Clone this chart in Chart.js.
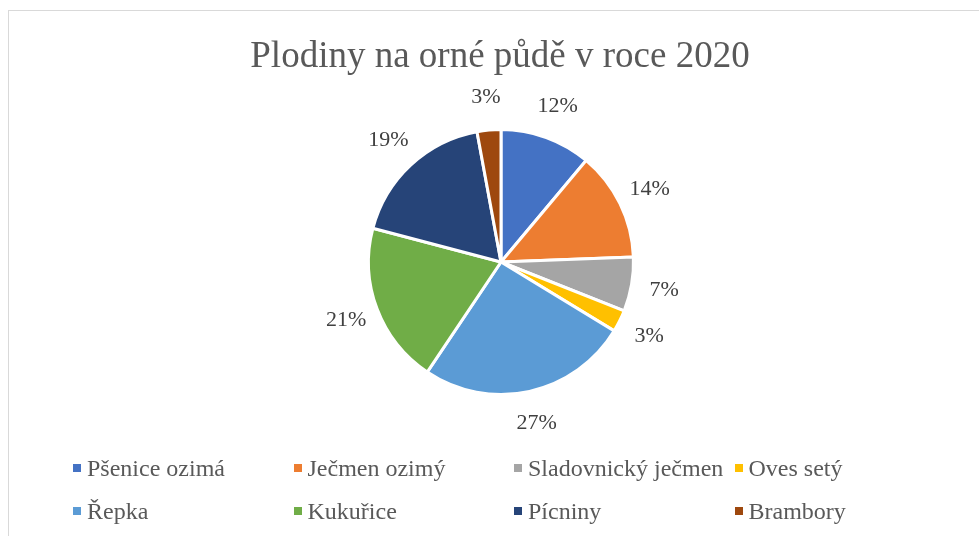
<!DOCTYPE html>
<html>
<head>
<meta charset="utf-8">
<script src="https://cdn.jsdelivr.net/npm/chart.js@4/dist/chart.umd.min.js"></script>
<style>
  html, body { margin: 0; padding: 0; background: #fff; }
  #wrap { position: relative; width: 979px; height: 536px; overflow: hidden; font-family: "Liberation Serif", "Times New Roman", serif; }
  #frame { position: absolute; left: 8px; top: 10px; width: 1000px; height: 600px; border: 1.5px solid #d9d9d9; box-sizing: border-box; }
  #title { position: absolute; left: 0; top: 36px; width: 1000px; text-align: center; font-size: 37px; line-height: 37px; color: #595959; }
  #c { position: absolute; left: 0; top: 0; }
  .lg { position: absolute; font-size: 24px; line-height: 24px; color: #595959; white-space: nowrap; }
  .lg span.box { position: absolute; width: 8px; height: 8px; left: -14px; top: 8px; }
</style>
</head>
<body>
<div id="wrap">
  <div id="frame"></div>
  <canvas id="c" width="979" height="536"></canvas>
  <div id="title">Plodiny na orné půdě v roce 2020</div>
  <div id="legend"></div>
</div>
<script>
const categories = ["Pšenice ozimá", "Ječmen ozimý", "Sladovnický ječmen", "Oves setý", "Řepka", "Kukuřice", "Pícniny", "Brambory"];
const shares = [11.1, 13.3, 6.6, 2.7, 25.7, 19.7, 18.0, 2.9];
const percentLabels = ["12%", "14%", "7%", "3%", "27%", "21%", "19%", "3%"];
const colors = ["#4472C4", "#ED7D31", "#A5A5A5", "#FFC000", "#5B9BD5", "#70AD47", "#264478", "#9E480E"];

const FONT = '"Liberation Serif", "Times New Roman", serif';

const outsideLabels = {
  id: 'outsideLabels',
  afterDatasetsDraw(chart) {
    const ctx = chart.ctx;
    const meta = chart.getDatasetMeta(0);
    ctx.save();
    ctx.font = '22px ' + FONT;
    ctx.fillStyle = '#404040';
    ctx.textAlign = 'center';
    ctx.textBaseline = 'middle';
    meta.data.forEach((arc, i) => {
      const p = arc.getProps(['x', 'y', 'startAngle', 'endAngle', 'outerRadius'], true);
      const mid = (p.startAngle + p.endAngle) / 2;
      const d = p.outerRadius + 33;
      const x = p.x + Math.cos(mid) * d;
      const y = p.y + Math.sin(mid) * d;
      ctx.fillText(percentLabels[i], x, y);
    });
    ctx.restore();
  }
};

const chart = new Chart(document.getElementById('c'), {
  type: 'pie',
  data: {
    labels: categories,
    datasets: [{
      data: shares,
      backgroundColor: colors,
      borderColor: '#ffffff',
      borderWidth: 3
    }]
  },
  options: {
    responsive: false,
    animation: false,
    radius: 132.5,
    layout: { padding: { left: 150, right: 127, top: 100, bottom: 112 } },
    plugins: {
      legend: { display: false },
      title: { display: false },
      tooltip: { enabled: false }
    }
  },
  plugins: [outsideLabels]
});

// HTML legend built from the chart's data
const legendEl = document.getElementById('legend');
chart.data.labels.forEach((lab, i) => {
  const col = i % 4, row = Math.floor(i / 4);
  const d = document.createElement('div');
  d.className = 'lg';
  d.style.left = (87 + col * 220.5) + 'px';
  d.style.top = (456 + row * 43) + 'px';
  const b = document.createElement('span');
  b.className = 'box';
  b.style.background = chart.data.datasets[0].backgroundColor[i];
  d.appendChild(b);
  d.appendChild(document.createTextNode(lab));
  legendEl.appendChild(d);
});
</script>
</body>
</html>
